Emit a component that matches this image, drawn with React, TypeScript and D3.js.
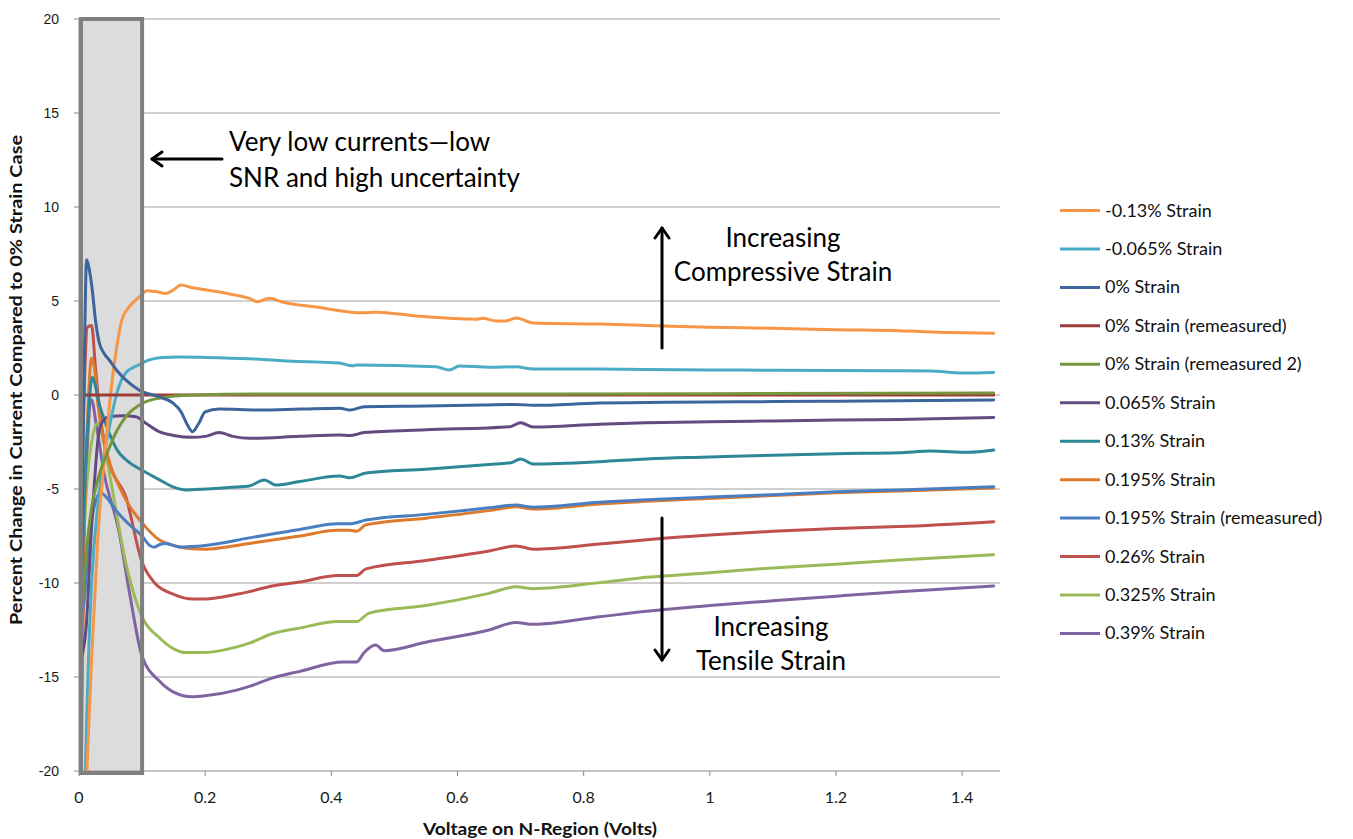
import React from "react";
import * as d3 from "d3";

type Pt = [number, number];

const xTicks = [0, 0.2, 0.4, 0.6, 0.8, 1, 1.2, 1.4];
const yTicks = [-20, -15, -10, -5, 0, 5, 10, 15, 20];

const seriesNames = [
  "-0.13% Strain",
  "-0.065% Strain",
  "0% Strain",
  "0% Strain (remeasured)",
  "0% Strain (remeasured 2)",
  "0.065% Strain",
  "0.13% Strain",
  "0.195% Strain",
  "0.195% Strain (remeasured)",
  "0.26% Strain",
  "0.325% Strain",
  "0.39% Strain",
];

const seriesColors = [
  "#F79646", "#4BACC6", "#3B659B", "#9E3B39", "#77953D", "#634A80",
  "#2E8799", "#DF7A2C", "#4A7EC2", "#C0504D", "#9BBB59", "#8064A2",
];

const sNeg013: Pt[] = [[0.01,-22],[0.02,-14],[0.03,-7.5],[0.042,-2.8],[0.05,0],[0.06,2.6],[0.068,4.0],[0.08,4.7],[0.095,5.2],[0.108,5.55],[0.122,5.5],[0.138,5.4],[0.15,5.6],[0.162,5.85],[0.18,5.7],[0.2,5.6],[0.25,5.3],[0.27,5.14],[0.283,4.96],[0.302,5.15],[0.322,4.95],[0.376,4.68],[0.449,4.37],[0.471,4.4],[0.535,4.2],[0.63,4.03],[0.64,4.08],[0.661,3.94],[0.677,3.94],[0.693,4.1],[0.72,3.83],[0.825,3.77],[0.9,3.7],[1.0,3.6],[1.1,3.55],[1.2,3.47],[1.3,3.42],[1.38,3.32],[1.45,3.28]];
const sNeg0065: Pt[] = [[0.006,-24],[0.01,-20],[0.015,-14],[0.02,-10],[0.03,-5.8],[0.04,-3.2],[0.05,-1.4],[0.06,0.1],[0.074,1.17],[0.095,1.6],[0.11,1.85],[0.132,2.0],[0.16,2.02],[0.2,2.0],[0.27,1.93],[0.322,1.82],[0.413,1.7],[0.433,1.55],[0.44,1.6],[0.566,1.5],[0.587,1.33],[0.603,1.54],[0.651,1.48],[0.693,1.5],[0.72,1.38],[0.825,1.38],[0.9,1.35],[1.0,1.33],[1.1,1.32],[1.2,1.3],[1.3,1.29],[1.35,1.28],[1.4,1.17],[1.45,1.2]];
const s0: Pt[] = [[0.002,-13],[0.006,-4],[0.009,3],[0.012,7.2],[0.015,6.9],[0.021,5.6],[0.026,4.0],[0.032,2.8],[0.04,2.2],[0.048,1.86],[0.06,1.3],[0.074,0.8],[0.095,0.27],[0.127,-0.1],[0.148,-0.4],[0.162,-0.9],[0.172,-1.6],[0.18,-1.95],[0.19,-1.5],[0.2,-0.9],[0.222,-0.75],[0.286,-0.8],[0.35,-0.75],[0.413,-0.7],[0.43,-0.8],[0.452,-0.62],[0.55,-0.58],[0.64,-0.53],[0.693,-0.5],[0.72,-0.55],[0.825,-0.43],[0.9,-0.4],[1.0,-0.37],[1.1,-0.35],[1.2,-0.33],[1.3,-0.3],[1.45,-0.27]];
const s0re: Pt[] = [[0.002,0],[0.5,0],[1.0,0],[1.45,0]];
const s0re2: Pt[] = [[0.002,-13.2],[0.01,-9],[0.02,-6],[0.03,-4.5],[0.048,-2.8],[0.06,-1.9],[0.074,-1.16],[0.1,-0.45],[0.127,-0.17],[0.18,0.0],[0.3,0.05],[0.6,0.05],[1.0,0.07],[1.45,0.1]];
const s0065: Pt[] = [[0.003,-14],[0.011,-12.5],[0.02,-7],[0.032,-1.9],[0.04,-1.3],[0.048,-1.16],[0.07,-1.1],[0.09,-1.16],[0.106,-1.5],[0.127,-1.95],[0.15,-2.15],[0.18,-2.25],[0.2,-2.2],[0.222,-2.0],[0.244,-2.2],[0.27,-2.3],[0.35,-2.2],[0.413,-2.13],[0.429,-2.16],[0.452,-2.0],[0.55,-1.85],[0.683,-1.69],[0.7,-1.47],[0.72,-1.7],[0.825,-1.55],[0.9,-1.48],[1.0,-1.42],[1.1,-1.38],[1.2,-1.33],[1.3,-1.3],[1.45,-1.2]];
const s013: Pt[] = [[0.002,-13],[0.008,-6],[0.015,-1],[0.021,0.95],[0.026,0.5],[0.03,-0.2],[0.04,-1.3],[0.05,-2.2],[0.06,-2.9],[0.08,-3.6],[0.1,-4.0],[0.127,-4.5],[0.15,-4.9],[0.17,-5.05],[0.2,-5.0],[0.25,-4.9],[0.27,-4.84],[0.294,-4.52],[0.312,-4.79],[0.35,-4.6],[0.413,-4.31],[0.429,-4.4],[0.455,-4.15],[0.55,-3.95],[0.65,-3.7],[0.685,-3.6],[0.7,-3.4],[0.72,-3.67],[0.825,-3.55],[0.9,-3.4],[1.0,-3.3],[1.1,-3.2],[1.2,-3.12],[1.3,-3.07],[1.35,-2.98],[1.41,-3.05],[1.45,-2.93]];
const s0195: Pt[] = [[0.003,-22],[0.008,-8],[0.014,-1],[0.02,1.95],[0.025,1.3],[0.03,-0.5],[0.04,-2.5],[0.05,-3.8],[0.06,-4.6],[0.08,-5.9],[0.1,-6.8],[0.127,-7.7],[0.15,-8.0],[0.17,-8.15],[0.2,-8.2],[0.25,-8.0],[0.27,-7.9],[0.35,-7.5],[0.41,-7.2],[0.429,-7.2],[0.44,-7.25],[0.455,-6.9],[0.55,-6.55],[0.65,-6.15],[0.693,-5.95],[0.72,-6.07],[0.825,-5.8],[0.9,-5.65],[1.0,-5.5],[1.1,-5.35],[1.2,-5.2],[1.3,-5.1],[1.45,-4.95]];
const s0195re: Pt[] = [[0.002,-12.4],[0.008,-11],[0.015,-8],[0.025,-5.8],[0.034,-5.2],[0.045,-5.5],[0.06,-6.2],[0.08,-6.9],[0.1,-7.5],[0.112,-8.0],[0.119,-8.1],[0.128,-7.95],[0.138,-7.9],[0.158,-8.08],[0.2,-8.0],[0.27,-7.6],[0.35,-7.15],[0.41,-6.85],[0.429,-6.85],[0.455,-6.65],[0.55,-6.35],[0.65,-6.0],[0.693,-5.85],[0.72,-5.97],[0.825,-5.7],[0.9,-5.57],[1.0,-5.43],[1.1,-5.3],[1.2,-5.15],[1.3,-5.05],[1.45,-4.88]];
const s026: Pt[] = [[0.002,-8],[0.008,0],[0.013,3.6],[0.02,3.7],[0.026,1.5],[0.03,0],[0.037,-1.9],[0.05,-3.8],[0.074,-5.4],[0.1,-8.9],[0.12,-10.0],[0.15,-10.6],[0.18,-10.85],[0.2,-10.85],[0.25,-10.6],[0.27,-10.46],[0.306,-10.16],[0.35,-9.95],[0.41,-9.6],[0.44,-9.6],[0.455,-9.25],[0.55,-8.8],[0.65,-8.3],[0.693,-8.03],[0.72,-8.2],[0.825,-7.93],[0.9,-7.7],[1.0,-7.45],[1.1,-7.25],[1.2,-7.1],[1.3,-7.0],[1.45,-6.74]];
const s0325: Pt[] = [[0.002,-13.2],[0.01,-6],[0.02,-2.5],[0.03,-1.5],[0.037,-2.2],[0.05,-4.5],[0.074,-8.9],[0.1,-11.8],[0.127,-12.9],[0.15,-13.5],[0.17,-13.7],[0.2,-13.7],[0.25,-13.4],[0.27,-13.2],[0.306,-12.7],[0.35,-12.4],[0.41,-12.05],[0.44,-12.05],[0.46,-11.6],[0.55,-11.2],[0.65,-10.55],[0.693,-10.2],[0.72,-10.3],[0.825,-9.98],[0.9,-9.7],[1.0,-9.45],[1.1,-9.2],[1.2,-9.0],[1.3,-8.78],[1.45,-8.5]];
const s039: Pt[] = [[0.002,-12.5],[0.01,-5],[0.02,-0.27],[0.027,-1.5],[0.04,-4.2],[0.063,-7.2],[0.08,-10.5],[0.1,-13.9],[0.127,-15.2],[0.15,-15.8],[0.18,-16.05],[0.2,-16.0],[0.25,-15.7],[0.27,-15.5],[0.306,-15.06],[0.35,-14.7],[0.418,-14.2],[0.44,-14.2],[0.452,-13.7],[0.47,-13.3],[0.484,-13.6],[0.55,-13.15],[0.65,-12.5],[0.693,-12.1],[0.72,-12.2],[0.825,-11.8],[0.9,-11.5],[1.0,-11.2],[1.1,-10.95],[1.2,-10.7],[1.3,-10.46],[1.45,-10.16]];

const seriesData: Pt[][] = [sNeg013, sNeg0065, s0, s0re, s0re2, s0065, s013, s0195, s0195re, s026, s0325, s039];
const drawOrder = [11, 10, 9, 7, 8, 6, 5, 1, 0, 3, 4, 2];

const FONT = "Lato, 'Open Sans', sans-serif";

export default function App() {
  const left = 79, right = 1000, top = 19, bottom = 771;
  const x = d3.scaleLinear().domain([0, 1.46]).range([left, right]);
  const y = d3.scaleLinear().domain([-20, 20]).range([bottom, top]);
  const line = d3
    .line<Pt>()
    .x((d) => x(d[0]))
    .y((d) => y(d[1]))
    .curve(d3.curveMonotoneX);

  const legX = 1060, legY0 = 210.5, legStep = 38.45;

  return (
    <svg
      width={1353}
      height={839}
      style={{ position: "absolute", left: 0, top: 0, background: "#fff" }}
    >
      <defs>
        <clipPath id="plot">
          <rect x={left} y={top - 2} width={right - left} height={bottom - top + 4} />
        </clipPath>
      </defs>
      <rect width={1353} height={839} fill="#fff" />
      {yTicks.filter((t) => t !== -20).map((t) => (
        <line key={t} x1={left} x2={right} y1={y(t)} y2={y(t)} stroke="#a0a0a0" strokeWidth={1} />
      ))}
      <rect x={x(0) + 2} y={top} width={x(0.1) - x(0) - 2} height={bottom - top + 2} fill="#dcdcdc" />
      <line x1={left} x2={right} y1={bottom} y2={bottom} stroke="#8a8a8a" strokeWidth={1} />
      <line x1={left} x2={left} y1={top} y2={bottom} stroke="#8a8a8a" strokeWidth={1} />
      {yTicks.map((t) => (
        <g key={"yt" + t}>
          <line x1={left - 5} x2={left} y1={y(t)} y2={y(t)} stroke="#8a8a8a" />
          <text x={59} y={y(t) + 5} textAnchor="end" fontFamily="'Liberation Sans', Arial, sans-serif" fontSize={14} fill="#1a1a1a">
            {t}
          </text>
        </g>
      ))}
      {xTicks.map((t) => (
        <g key={"xt" + t}>
          <line x1={x(t)} x2={x(t)} y1={bottom} y2={bottom + 5} stroke="#8a8a8a" />
          <text x={x(t)} y={803} textAnchor="middle" fontFamily={FONT} fontSize={16} fill="#1a1a1a">
            {t}
          </text>
        </g>
      ))}
      <g clipPath="url(#plot)">
        {drawOrder.map((i) => (
          <path
            key={i}
            d={line(seriesData[i]) || ""}
            fill="none"
            stroke={seriesColors[i]}
            strokeWidth={3}
            strokeLinejoin="round"
            strokeLinecap="round"
          />
        ))}
      </g>
      <rect x={x(0) + 2} y={top} width={x(0.1) - x(0) - 2} height={bottom - top + 2} fill="none" stroke="#7f7f7f" strokeWidth={4} />
      <text
        transform={`translate(22,${(top + bottom) / 2 - 15}) rotate(-90)`}
        textAnchor="middle"
        fontFamily={FONT}
        fontWeight="bold"
        fontSize={17}
        textLength={490}
        lengthAdjust="spacingAndGlyphs"
        fill="#111"
      >
        Percent Change in Current Compared to 0% Strain Case
      </text>
      <text x={540} y={835} textAnchor="middle" fontFamily={FONT} fontWeight="bold" fontSize={17} textLength={234} lengthAdjust="spacingAndGlyphs" fill="#111">
        Voltage on N-Region (Volts)
      </text>
      {seriesNames.map((n, i) => (
        <g key={n}>
          <line x1={legX} x2={legX + 40} y1={legY0 + i * legStep} y2={legY0 + i * legStep} stroke={seriesColors[i]} strokeWidth={3} />
          <text x={legX + 45} y={legY0 + i * legStep + 6} fontFamily={FONT} fontSize={18} fill="#111">
            {n}
          </text>
        </g>
      ))}
      <g stroke="#000" strokeWidth={3} fill="none" strokeLinecap="round" strokeLinejoin="round">
        <line x1={222} y1={159} x2={152} y2={159} />
        <polyline points="162,152 152,159 162,166" />
        <line x1={662} y1={348} x2={662} y2={228} />
        <polyline points="655,238 662,228 669,238" />
        <line x1={662} y1={518} x2={662} y2={660} />
        <polyline points="655,650 662,660 669,650" />
      </g>
      <g fontFamily={FONT} fontSize={26} fill="#000">
        <text x={229} y={151}>Very low currents—low</text>
        <text x={229} y={187}>SNR and high uncertainty</text>
        <text x={783} y={247} textAnchor="middle">Increasing</text>
        <text x={783} y={281} textAnchor="middle">Compressive Strain</text>
        <text x={771} y={636} textAnchor="middle">Increasing</text>
        <text x={771} y={670} textAnchor="middle">Tensile Strain</text>
      </g>
    </svg>
  );
}
